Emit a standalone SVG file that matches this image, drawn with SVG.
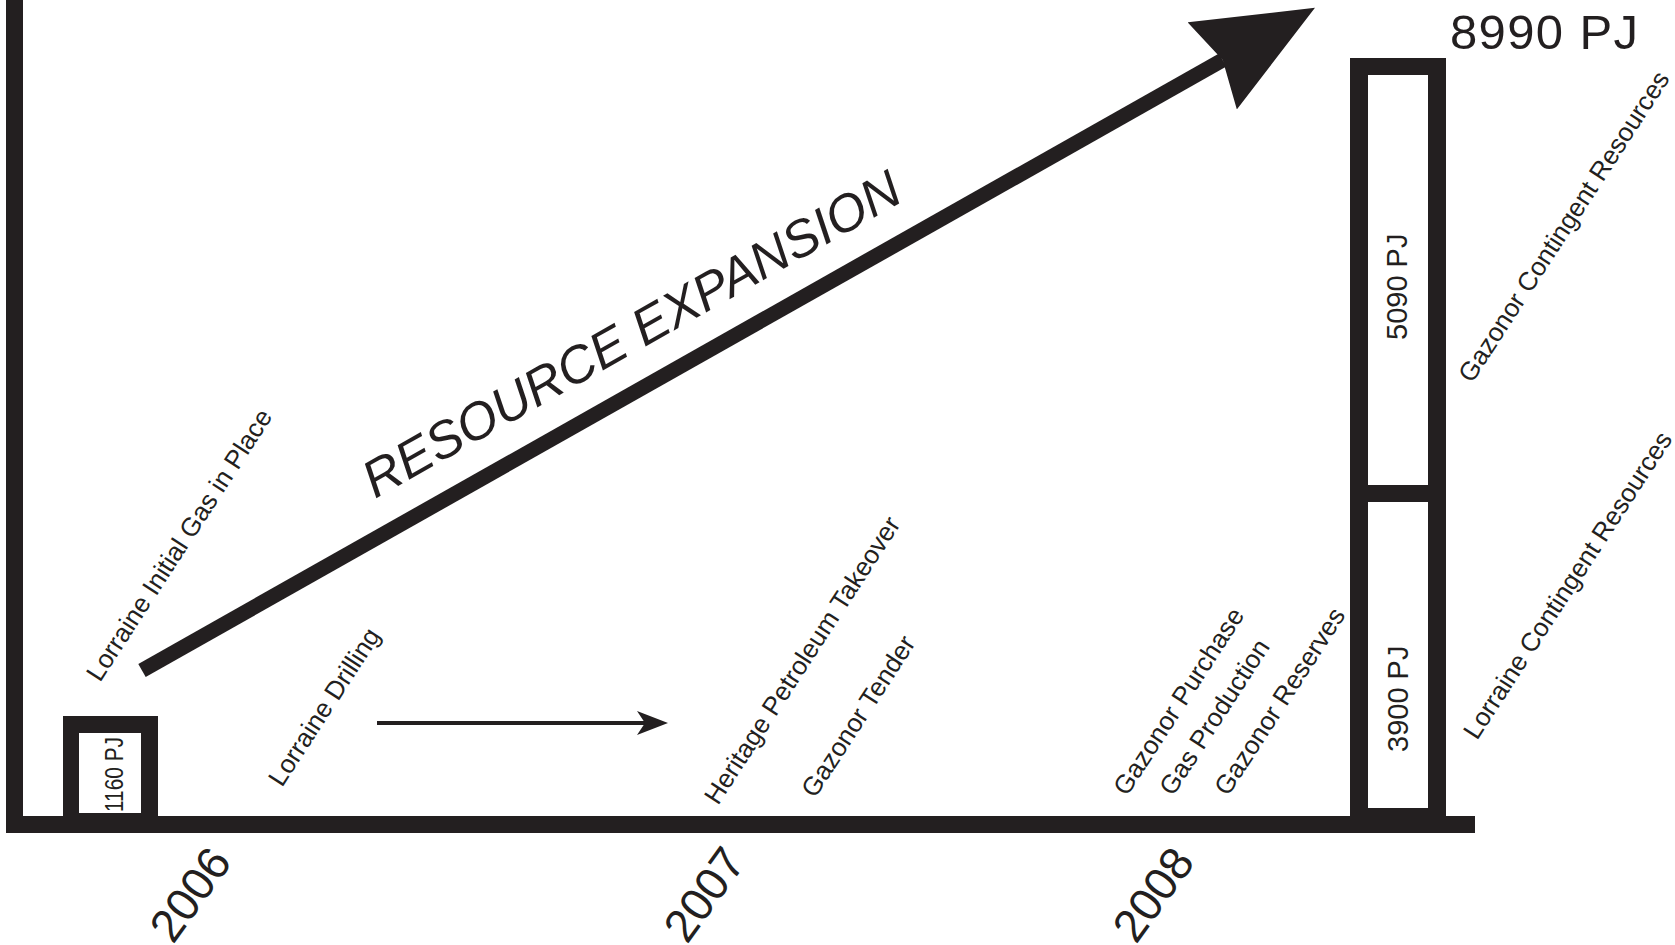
<svg xmlns="http://www.w3.org/2000/svg" width="1675" height="945" viewBox="0 0 1675 945">
<defs>
<style>
.ink{fill:#231f20}
.frame{fill:#231f20;fill-rule:evenodd}
.lbl{font-family:"Liberation Sans",Arial,sans-serif;fill:#231f20}
.side{font-size:26px}
.year{font-size:46px}
.val{font-size:29px}
.title{font-size:52px;font-style:italic}
.big{font-size:49px}
.shaft{stroke:#231f20;fill:none;stroke-linecap:butt}
</style>
<marker id="bighead" markerUnits="userSpaceOnUse" viewBox="0 0 118 100" markerWidth="118" markerHeight="100" refX="12" refY="50" orient="auto"><path d="M0,0 L118,50 L0,100 L12,50 Z" fill="#231f20"/></marker>
<marker id="smallhead" markerUnits="userSpaceOnUse" viewBox="0 0 31 24" markerWidth="31" markerHeight="24" refX="8" refY="12" orient="auto"><path d="M0,0 L31,12 L0,24 L8,12 Z" fill="#231f20"/></marker>
</defs>
<rect width="1675" height="945" fill="#ffffff"/>

<g id="axes">
<rect class="ink" x="6" y="0" width="17" height="833"/>
<rect class="ink" x="6" y="816" width="1469" height="17"/>
</g>

<g id="box-2006">
<path class="frame" d="M63,716 H158 V833 H63 Z M79,733 H141 V813 H79 Z"/>
<text class="lbl" font-size="26" textLength="75" lengthAdjust="spacingAndGlyphs" transform="translate(123,812) rotate(-90)">1160 PJ</text>
</g>

<g id="bar-2008">
<path class="frame" d="M1350,58 H1446 V833 H1350 Z M1368,75 H1428 V485 H1368 Z M1368,502 H1428 V808 H1368 Z"/>
<text class="lbl val" transform="translate(1407,340) rotate(-90)">5090 PJ</text>
<text class="lbl val" transform="translate(1408,752) rotate(-90)">3900 PJ</text>
<text class="lbl big" x="1450" y="49" textLength="188" lengthAdjust="spacing">8990 PJ</text>
</g>

<g id="connectors">
<line class="shaft" x1="142" y1="670.5" x2="1222.7" y2="60" stroke-width="15" marker-end="url(#bighead)"/>
<line class="shaft" x1="377" y1="723" x2="645" y2="723" stroke-width="4" marker-end="url(#smallhead)"/>
</g>

<g id="title">
<text class="lbl title" transform="translate(375,499) rotate(-29.4)">RESOURCE EXPANSION</text>
</g>

<g id="events">
<text class="lbl side" transform="translate(100,683) rotate(-57)">Lorraine Initial Gas in Place</text>
<text class="lbl side" transform="translate(282,788) rotate(-57)">Lorraine Drilling</text>
<text class="lbl side" transform="translate(718,806) rotate(-57)">Heritage Petroleum Takeover</text>
<text class="lbl side" transform="translate(815,799) rotate(-57)">Gazonor Tender</text>
<text class="lbl side" transform="translate(1127,797) rotate(-57)">Gazonor Purchase</text>
<text class="lbl side" transform="translate(1173,797) rotate(-57)">Gas Production</text>
<text class="lbl side" transform="translate(1228,797) rotate(-57)">Gazonor Reserves</text>
<text class="lbl side" transform="translate(1472,384) rotate(-57)">Gazonor Contingent Resources</text>
<text class="lbl side" transform="translate(1477,741) rotate(-57)">Lorraine Contingent Resources</text>
</g>

<g id="years">
<text class="lbl year" transform="translate(173,945) rotate(-54)">2006</text>
<text class="lbl year" transform="translate(687,945) rotate(-54)">2007</text>
<text class="lbl year" transform="translate(1136,945) rotate(-54)">2008</text>
</g>
</svg>
